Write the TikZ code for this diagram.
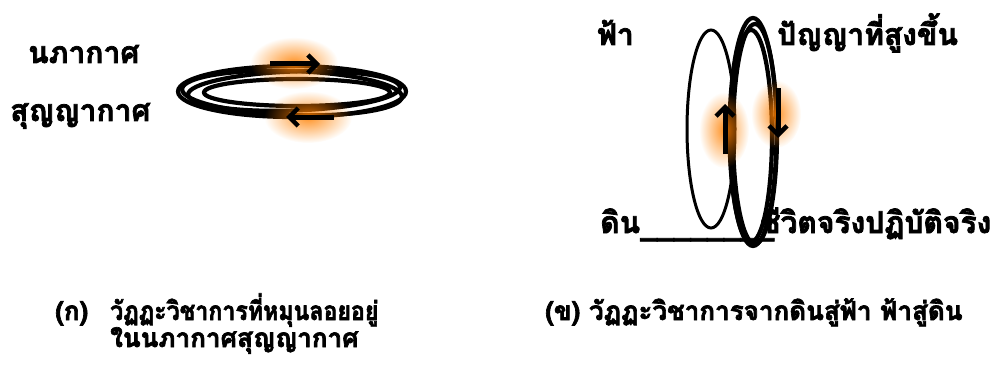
\documentclass[tikz,border=0pt]{standalone}
\usepackage{fontspec}
\newfontfamily\thai[Script=Thai, BoldFeatures={FakeBold=2.5}]{Loma}
\usetikzlibrary{fadings,arrows.meta}
\tikzfading[name=glowfade, inner color=transparent!15, outer color=transparent!100]
\tikzset{
  lbl/.style={inner sep=0pt, anchor=base west, font=\thai\bfseries\fontsize{30}{32}\selectfont},
  captxt/.style={inner sep=0pt, anchor=base west, font=\thai\bfseries\fontsize{26}{28}\selectfont},
  ring/.style={line width=4.2pt, black},
  thinring/.style={line width=3pt, black},
  glow/.style={fill=orange, path fading=glowfade},
  arr/.style={line width=5pt, -{Straight Barb[length=9pt,width=18pt,line width=4.5pt]}}
}
\begin{document}
\begin{tikzpicture}[x=1pt,y=-1pt]
\useasboundingbox (0,0) rectangle (1004,369);
% ---------- left panel ----------
\node[lbl] (nabha) at (28,63) {นภากาศ};
\node[lbl] (sunya) at (10,121) {สุญญากาศ};
\draw[ring] (292,91.5) ellipse [x radius=114pt, y radius=25.5pt];
\draw[ring, rotate around={-2:(292,93)}] (292,93) ellipse [x radius=110pt, y radius=22pt];
\draw[ring, rotate around={2:(294,91)}] (294,91) ellipse [x radius=106pt, y radius=19.5pt];
\draw[ring] (297,92.5) ellipse [x radius=93pt, y radius=13.5pt];
\fill[glow] (294,63) ellipse [x radius=44pt, y radius=26pt];
\fill[glow] (308,117) ellipse [x radius=44pt, y radius=26pt];
\coordinate (ta) at (270,64); \coordinate (tb) at (320,64);
\coordinate (ba) at (334,117); \coordinate (bb) at (286,117);
\draw[arr] (ta) -- (tb);
\draw[arr] (ba) -- (bb);
% ---------- right panel ----------
\node[lbl] (fa) at (597,45) {ฟ้า};
\node[lbl] (panya) at (777,45) {ปัญญาที่สูงขึ้น};
\node[lbl] (din) at (600,233) {ดิน};
\node[lbl, anchor=base west] (uline) at ([yshift=-2pt]din.base east) {\_\_\_\_\_\_\_\_};
\node[lbl] (chiwit) at (760,233) {ชีวิตจริงปฏิบัติจริง};
\draw[thinring] (711,129) ellipse [x radius=24pt, y radius=99pt];
\draw[ring] (753,132) ellipse [x radius=23.5pt, y radius=114pt];
\draw[ring] (755,134) ellipse [x radius=22pt, y radius=110pt];
\draw[ring] (751,136) ellipse [x radius=21pt, y radius=106pt];
\fill[glow] (724,130) ellipse [x radius=25pt, y radius=38pt];
\fill[glow] (776,114) ellipse [x radius=25pt, y radius=34pt];
\coordinate (ua) at (725,154); \coordinate (ub) at (725,104);
\coordinate (da) at (778,88); \coordinate (db) at (778,138);
\draw[arr] (ua) -- (ub);
\draw[arr] (da) -- (db);
% ---------- captions ----------
\node[captxt] (capa) at (55,320) {(ก)};
\node[captxt] (capa1) at (110,320) {\scalebox{0.89}[1]{วัฏฏะวิชาการที่หมุนลอยอยู่}};
\node[captxt] (capa2) at (110,347) {ในนภากาศสุญญากาศ};
\node[captxt] (capb) at (545,320) {(ข) วัฏฏะวิชาการจากดินสู่ฟ้า ฟ้าสู่ดิน};
\end{tikzpicture}
\end{document}
